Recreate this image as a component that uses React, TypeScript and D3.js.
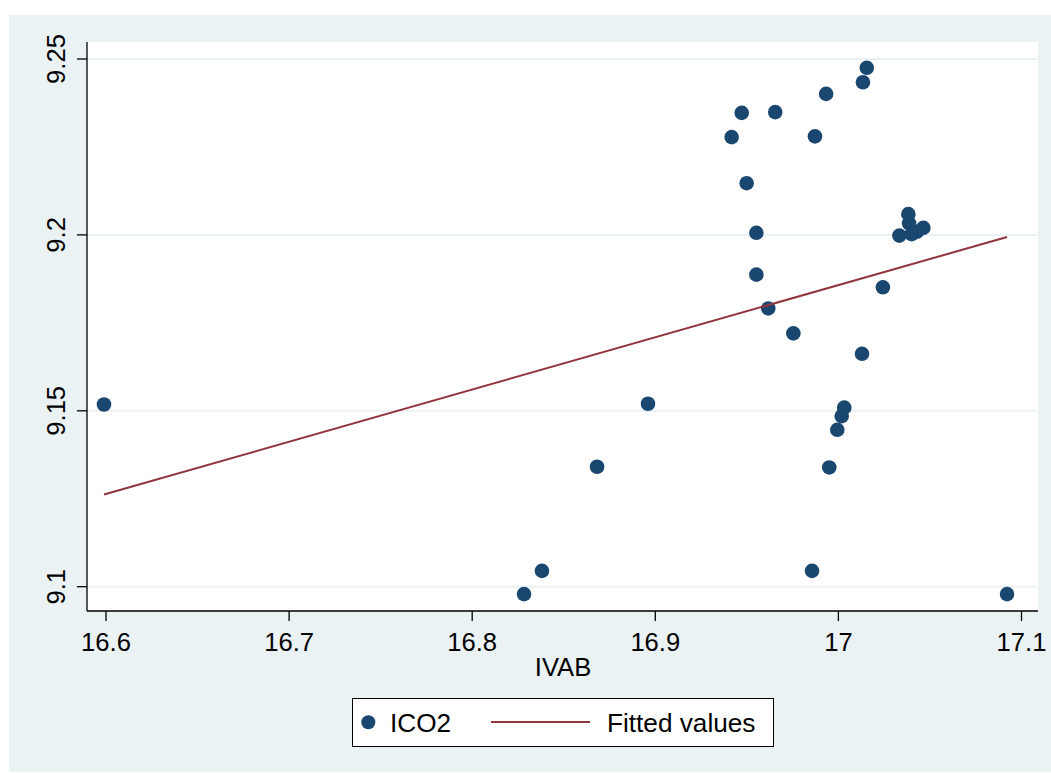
import React from "react";
import * as d3 from "d3";

const ivab = [
  16.5989, 16.8283, 16.8381, 16.8682, 16.896, 16.9417, 16.9472, 16.9499, 16.9552, 16.9552,
  16.9617, 16.9655, 16.9754, 16.9856, 16.9872, 16.9933, 16.995, 16.9994, 17.0018, 17.0032,
  17.0129, 17.0134, 17.0155, 17.0243, 17.0333, 17.0382, 17.0386, 17.04, 17.0428, 17.0464,
  17.0921,
];
const ico2 = [
  9.1518, 9.0979, 9.1045, 9.1341, 9.152, 9.2278, 9.2347, 9.2147, 9.2006, 9.1887,
  9.1791, 9.2349, 9.172, 9.1045, 9.228, 9.2401, 9.1339, 9.1446, 9.1485, 9.1509,
  9.1662, 9.2434, 9.2475, 9.1851, 9.1998, 9.2059, 9.2033, 9.2002, 9.2009, 9.202,
  9.0979,
];
const fittedX = [16.5989, 17.0921];
const fittedY = [9.1262, 9.1994];
const xTicks = [16.6, 16.7, 16.8, 16.9, 17, 17.1];
const yTicks = [9.1, 9.15, 9.2, 9.25];
const xTitle = "IVAB";
const legendLabels = ["ICO2", "Fitted values"];

const NAVY = "#1a476f";
const MAROON = "#90353b";
const BG = "#eaf2f3";
const FONT = "'Liberation Sans', Arial, Helvetica, sans-serif";

export default function App() {
  const W = 1051;
  const H = 774;
  const plot = { left: 87, right: 1038, top: 42, bottom: 611 };
  const x = d3.scaleLinear().domain([16.6, 17.1]).range([106, 1021.5]);
  const y = d3.scaleLinear().domain([9.1, 9.25]).range([586.7, 59]);
  const fmt = (v: number) => d3.format("~g")(v);
  const line = d3
    .line<number>()
    .x((_, i) => x(fittedX[i]))
    .y((v) => y(v));

  return (
    <svg
      width={W}
      height={H}
      style={{ position: "absolute", left: 0, top: 0 }}
      fontFamily={FONT}
    >
      <rect x={0} y={0} width={W} height={H} fill="#ffffff" />
      <rect x={9} y={15} width={W - 9} height={757} fill={BG} />
      <rect
        x={plot.left}
        y={plot.top}
        width={plot.right - plot.left}
        height={plot.bottom - plot.top}
        fill="#ffffff"
      />
      {yTicks.map((t) => (
        <line
          key={"g" + t}
          x1={plot.left}
          x2={plot.right}
          y1={y(t)}
          y2={y(t)}
          stroke={BG}
          strokeWidth={2}
        />
      ))}
      {ivab.map((v, i) => (
        <circle key={i} cx={x(v)} cy={y(ico2[i])} r={7.3} fill={NAVY} />
      ))}
      <path d={line(fittedY) || ""} fill="none" stroke={MAROON} strokeWidth={2} />
      {/* axes */}
      <line x1={plot.left} x2={plot.left} y1={plot.top} y2={plot.bottom} stroke="#000" strokeWidth={1.3} />
      <line x1={plot.left} x2={plot.right} y1={plot.bottom} y2={plot.bottom} stroke="#000" strokeWidth={1.3} />
      {xTicks.map((t) => (
        <g key={"x" + t}>
          <line x1={x(t)} x2={x(t)} y1={plot.bottom} y2={plot.bottom + 10} stroke="#000" strokeWidth={1.3} />
          <text x={x(t)} y={651} textAnchor="middle" fontSize={25.6} fill="#000">
            {fmt(t)}
          </text>
        </g>
      ))}
      {yTicks.map((t) => (
        <g key={"y" + t}>
          <line x1={plot.left - 10} x2={plot.left} y1={y(t)} y2={y(t)} stroke="#000" strokeWidth={1.3} />
          <text
            transform={`translate(65,${y(t)}) rotate(-90)`}
            textAnchor="middle"
            fontSize={25.6}
            fill="#000"
          >
            {fmt(t)}
          </text>
        </g>
      ))}
      <text x={563} y={676} textAnchor="middle" fontSize={25.6} fill="#000">
        {xTitle}
      </text>
      {/* legend */}
      <rect x={352.5} y={698.5} width={421} height={48} fill="#fff" stroke="#000" strokeWidth={1} />
      <circle cx={368.3} cy={722.3} r={7} fill={NAVY} />
      <text x={390} y={732} fontSize={26.2} fill="#000">
        {legendLabels[0]}
      </text>
      <line x1={491} x2={590} y1={722} y2={722} stroke={MAROON} strokeWidth={2} />
      <text x={607} y={732} fontSize={26.2} fill="#000">
        {legendLabels[1]}
      </text>
    </svg>
  );
}
